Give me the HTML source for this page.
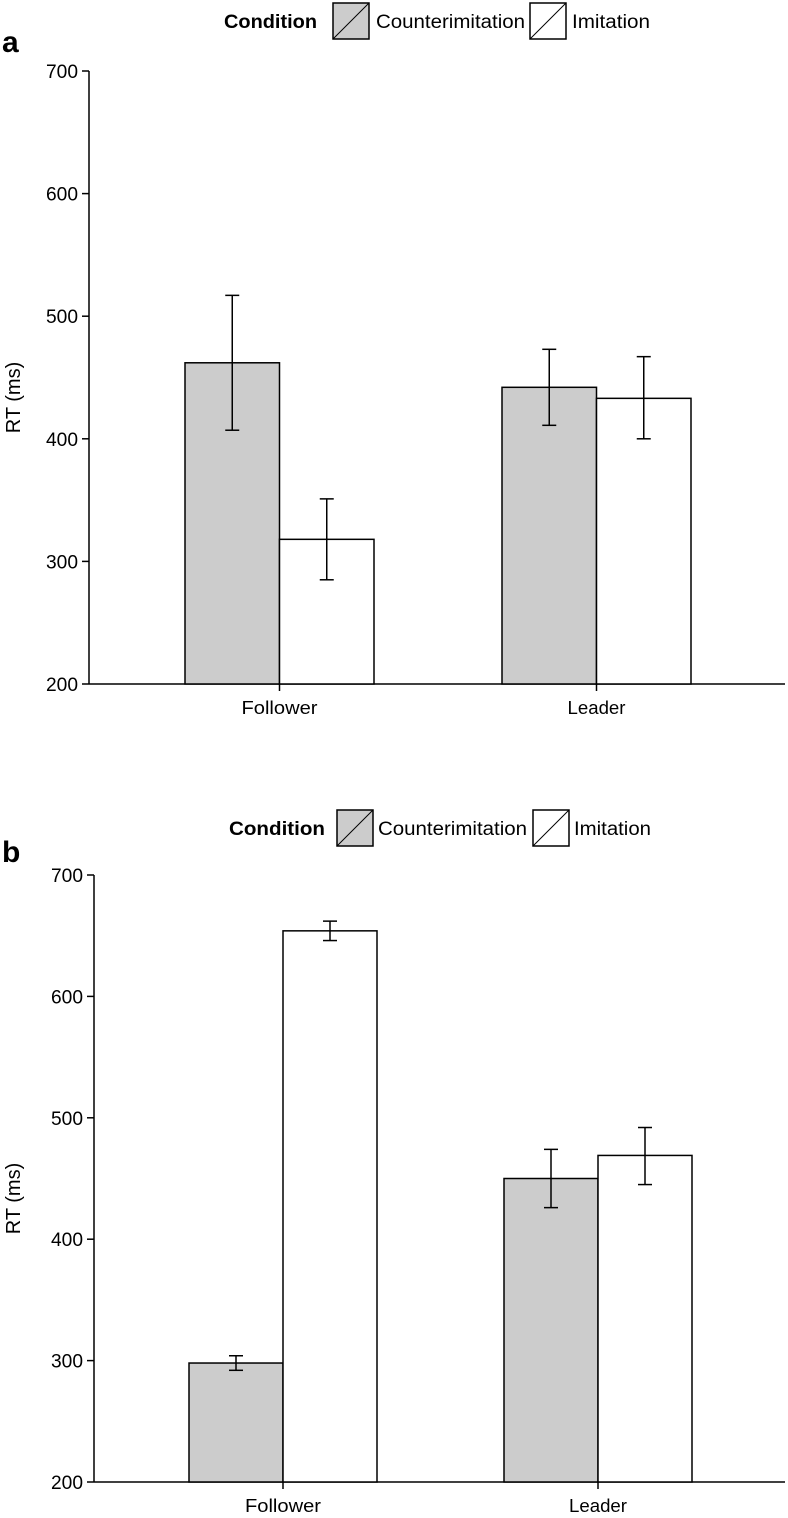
<!DOCTYPE html>
<html><head><meta charset="utf-8"><style>
body{margin:0;background:#fff;}
svg{display:block;font-family:"Liberation Sans",sans-serif;}
</style></head><body>
<svg id="chart" width="788" height="1518"></svg>
<script>
const categories = ["Follower","Leader"];
const seriesNames = ["Counterimitation","Imitation"];
const ticks = [200,300,400,500,600,700];
const aMeans = [[462,318],[442,433]];
const aLow = [[407,285],[411,400]];
const aHigh = [[517,351],[473,467]];
const bMeans = [[298,654],[450,469]];
const bLow = [[292,646],[426,445]];
const bHigh = [[304,662],[474,492]];
const fills = ["#cccccc","#ffffff"];

const NS="http://www.w3.org/2000/svg";
const svg=document.getElementById('chart');
function mk(tag,attrs,parent,text){const e=document.createElementNS(NS,tag);for(const k in attrs)e.setAttribute(k,attrs[k]);if(text!==undefined)e.textContent=text;(parent||svg).appendChild(e);return e;}

function panel(cfg){
  const g=mk('g',{});
  
  
  const y=v=>cfg.yBottom-(v-200)*(cfg.yBottom-cfg.yTop)/500;
  const lab=mk('text',{x:2,y:cfg.labelY,'font-size':30,'font-weight':'bold'},g,cfg.label);
  
  
  const lg=mk('g',{},g);
  
  
  mk('text',{x:cfg.leg[0],y:cfg.legY+26,'font-size':19,'font-weight':'bold',textLength:cfg.leg[1]-cfg.leg[0],lengthAdjust:'spacingAndGlyphs'},lg,'Condition');
  const items=[[cfg.leg[2],cfg.leg[3],cfg.leg[4]],[cfg.leg[5],cfg.leg[6],cfg.leg[7]]];
  items.forEach((it,i)=>{
    const e=mk('g',{},lg);
    
    
    mk('rect',{x:it[0],y:cfg.legY+1,width:36,height:36,fill:fills[i],stroke:'#000','stroke-width':1.5},e);
    mk('line',{x1:it[0],y1:cfg.legY+37,x2:it[0]+36,y2:cfg.legY+1,stroke:'#000','stroke-width':1},e);
    mk('text',{x:it[1],y:cfg.legY+26,'font-size':19,textLength:it[2]-it[1],lengthAdjust:'spacingAndGlyphs'},e,seriesNames[i]);
  });
  const ax=mk('g',{},g);
  
  
  mk('line',{x1:cfg.axisX,y1:y(700),x2:cfg.axisX,y2:y(200),stroke:'#000','stroke-width':1.5},ax);
  ticks.forEach(t=>{
    mk('line',{x1:cfg.axisX-7,y1:y(t),x2:cfg.axisX,y2:y(t),stroke:'#000','stroke-width':1.5},ax);
    mk('text',{x:cfg.axisX-11,y:y(t)+7,'font-size':19,'text-anchor':'end',textLength:32,lengthAdjust:'spacingAndGlyphs'},ax,String(t));
  });
  const yt=mk('text',{x:0,y:0,'font-size':20,'text-anchor':'middle',transform:`translate(20,${(y(700)+y(200))/2+20}) rotate(-90)`},g,'RT (ms)');
  
  
  const xa=mk('line',{x1:cfg.axisX,y1:y(200),x2:785,y2:y(200),stroke:'#000','stroke-width':1.5},g);
  
  
  categories.forEach((c,ci)=>{
    const x0=cfg.barStarts[ci];
    mk('line',{x1:x0+cfg.bw,y1:y(200),x2:x0+cfg.bw,y2:y(200)+7,stroke:'#000','stroke-width':1.5},g);
    const tl=mk('text',{x:x0+cfg.bw,y:y(200)+30,'font-size':18,'text-anchor':'middle',textLength:c==='Follower'?76:58,lengthAdjust:'spacingAndGlyphs'},g,c);
    
    
    for(let s=0;s<2;s++){
      const bx=x0+s*cfg.bw;
      const r=mk('rect',{x:bx,y:y(cfg.m[ci][s]),width:cfg.bw,height:y(200)-y(cfg.m[ci][s]),fill:fills[s],stroke:'#000','stroke-width':1.5},g);
      
      
      const cx=bx+cfg.bw/2;
      const eb=mk('g',{stroke:'#000','stroke-width':1.5},g);
      
      
      mk('line',{x1:cx,y1:y(cfg.lo[ci][s]),x2:cx,y2:y(cfg.hi[ci][s])},eb);
      mk('line',{x1:cx-7,y1:y(cfg.lo[ci][s]),x2:cx+7,y2:y(cfg.lo[ci][s])},eb);
      mk('line',{x1:cx-7,y1:y(cfg.hi[ci][s]),x2:cx+7,y2:y(cfg.hi[ci][s])},eb);
    }
  });
}
panel({label:'a',labelY:52,legY:2,leg:[224,317,333,376,525,530,572,650],axisX:89,yTop:71,yBottom:684,barStarts:[185,502],bw:94.5,m:aMeans,lo:aLow,hi:aHigh});
panel({label:'b',labelY:862,legY:809,leg:[229,325,337,378,527,533,574,651],axisX:94,yTop:875,yBottom:1482,barStarts:[189,504],bw:94,m:bMeans,lo:bLow,hi:bHigh});
</script>
</body></html>
